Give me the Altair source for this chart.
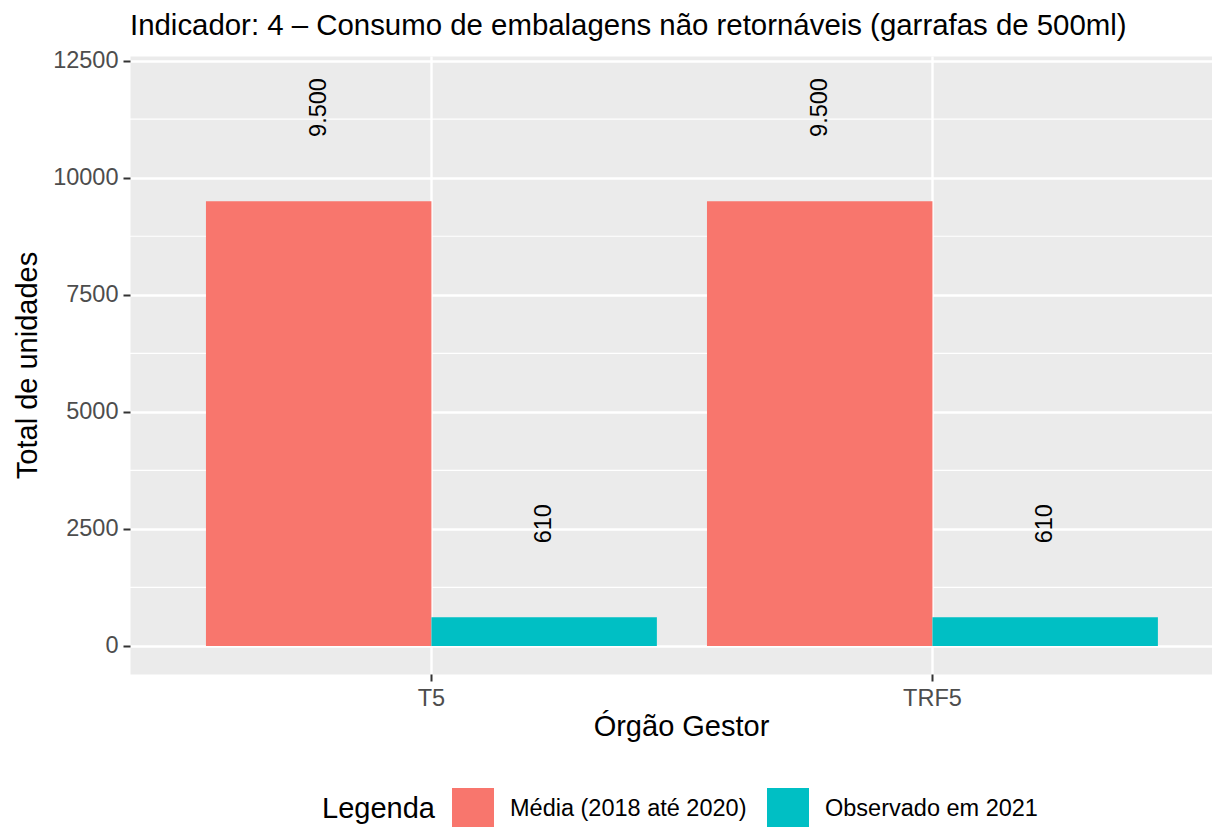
import altair as alt
import pandas as pd

orgaos = ["T5", "TRF5"]
series = ["Média (2018 até 2020)", "Observado em 2021"]
media = [9500, 9500]
observado = [610, 610]
y_ticks = [0, 2500, 5000, 7500, 10000, 12500]
minor_grid = [1250, 3750, 6250, 8750, 11250]
colors = ["#F8766D", "#00BFC4"]

rows = []
for i, o in enumerate(orgaos):
    rows.append({"orgao": o, "serie": series[0], "valor": media[i]})
    rows.append({"orgao": o, "serie": series[1], "valor": observado[i]})
df = pd.DataFrame(rows)
df["rotulo"] = df["valor"].map(lambda v: f"{v:,}".replace(",", "."))

grid_df = pd.DataFrame({"valor": minor_grid})

FONT = "Liberation Sans"
TITLE = "Indicador: 4 – Consumo de embalagens não retornáveis (garrafas de 500ml)"

y_scale = alt.Scale(domain=[-600, 12600], nice=False, zero=False)
x_scale = alt.Scale(paddingInner=0.1, paddingOuter=0.1298, align=0.584)
xo_scale = alt.Scale(paddingInner=0, paddingOuter=0)
y_axis = alt.Axis(values=y_ticks, format="d", labelPadding=5, titlePadding=10, grid=True)
x_axis = alt.Axis(labelAngle=0, labelPadding=5, titlePadding=3, titleX=551, grid=True)
Y_TITLE = "Total de unidades"
X_TITLE = "Órgão Gestor"

minor = alt.Chart(grid_df).mark_rule(color="white", strokeWidth=1.2).encode(
    y=alt.Y("valor:Q", scale=y_scale, axis=y_axis, title=Y_TITLE)
)

bars = alt.Chart(df).mark_bar().encode(
    x=alt.X("orgao:N", sort=orgaos, scale=x_scale, title=X_TITLE, axis=x_axis),
    xOffset=alt.XOffset("serie:N", sort=series, scale=xo_scale),
    y=alt.Y("valor:Q", scale=y_scale, title=Y_TITLE, axis=y_axis),
    y2=alt.datum(0),
    color=alt.Color("serie:N", sort=series,
                    scale=alt.Scale(domain=series, range=colors),
                    legend=alt.Legend(title="Legenda")),
)

labels = alt.Chart(df).transform_calculate(
    pos="datum.valor + 2000"
).mark_text(angle=270, align="center", baseline="middle", fontSize=23.5,
            font=FONT, color="black").encode(
    x=alt.X("orgao:N", sort=orgaos, scale=x_scale, title=X_TITLE, axis=x_axis),
    xOffset=alt.XOffset("serie:N", sort=series, scale=xo_scale),
    y=alt.Y("pos:Q", scale=y_scale, axis=y_axis, title=Y_TITLE),
    text="rotulo:N",
)

chart = alt.layer(minor, bars, labels).properties(
    width=1082,
    height=618,
    autosize=alt.AutoSizeParams(type="none"),
    padding={"left": 122, "top": 48, "right": 0, "bottom": 153},
    title=alt.TitleParams(TITLE, anchor="start", frame="group", fontSize=29.4,
                          fontWeight="normal", color="black", font=FONT, offset=7),
).configure_view(
    fill="#EBEBEB", stroke="transparent"
).configure_axis(
    domain=False, gridColor="white", gridWidth=2.4, tickColor="#333333",
    tickWidth=2, tickSize=7, labelColor="#4D4D4D", labelFontSize=23.5,
    labelFont=FONT, titleFont=FONT, titleFontSize=29, titleColor="black",
    titleFontWeight="normal",
).configure_legend(
    orient="none", legendX=192, legendY=732, direction="horizontal",
    titleOrient="left", titleFontSize=29, titleFontWeight="normal",
    titleColor="black", titleFont=FONT, labelFont=FONT, labelFontSize=23.5,
    labelColor="black", symbolType="square", symbolSize=1764,
    symbolStrokeWidth=0, symbolOpacity=1, labelOffset=16, columnPadding=20,
    titlePadding=17, labelLimit=400,
)

chart.save("out.html", embed_options={"renderer": "svg", "actions": False})
